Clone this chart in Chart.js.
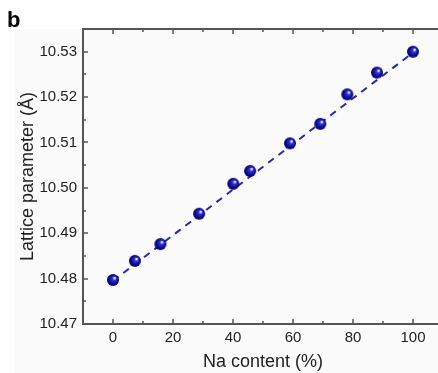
<!DOCTYPE html>
<html>
<head>
<meta charset="utf-8">
<script src="https://cdn.jsdelivr.net/npm/chart.js@4.4.0/dist/chart.umd.min.js"></script>
<style>
  html, body { margin: 0; padding: 0; overflow: hidden; background: #fff; }
  canvas { display: block; }
</style>
</head>
<body>
<canvas id="chart" width="450" height="373"></canvas>
<script>
// Na content (%) vs lattice parameter (Å)
var naContent = [0, 7.3, 15.8, 28.7, 40.1, 45.7, 59, 69.1, 78.1, 88, 100];
var latticeParam = [10.4797, 10.4839, 10.4876, 10.4943, 10.5009, 10.5037, 10.5098, 10.5141, 10.5206, 10.5254, 10.5300];

// linear fit end points
var fitX = [0, 100];
var fitY = [10.4795, 10.5298];

var xTicks = [0, 20, 40, 60, 80, 100];
var xMinor = [10, 30, 50, 70, 90];
var yTicks = [10.47, 10.48, 10.49, 10.50, 10.51, 10.52, 10.53];
var yMinor = [10.475, 10.485, 10.495, 10.505, 10.515, 10.525];

var FONT = '"Liberation Sans", Arial, sans-serif';

// shaded ball used as the marker
function sphere(r) {
    var cv = document.createElement('canvas');
    cv.width = cv.height = r * 2 + 2;
    var g = cv.getContext('2d'), m = r + 1;
    var grad = g.createRadialGradient(m + r * 0.3, m - r * 0.35, r * 0.1, m, m, r);
    grad.addColorStop(0, '#e4e4ff');
    grad.addColorStop(0.25, '#3434cc');
    grad.addColorStop(0.7, '#0a0a9a');
    grad.addColorStop(1, '#000062');
    g.fillStyle = grad;
    g.beginPath();
    g.arc(m, m, r, 0, Math.PI * 2);
    g.fill();
    return cv;
}

function pairs(xs, ys) {
    return xs.map(function(v, i) { return {x: v, y: ys[i]}; });
}

var frame = {
    id: 'frame',
    beforeDraw: function(chart) {
        var c = chart.ctx;
        c.save();
        c.fillStyle = '#fff';
        c.fillRect(0, 0, chart.width, chart.height);
        c.fillStyle = '#fbfbfb';
        c.fillRect(15, chart.chartArea.top, chart.width, chart.height);
        c.restore();
    },
    afterDraw: function(chart) {
        var a = chart.chartArea, xs = chart.scales.x, ys = chart.scales.y, c = chart.ctx;
        c.save();
        c.strokeStyle = '#555';
        c.lineWidth = 2;
        c.strokeRect(a.left, a.top, a.right - a.left, a.bottom - a.top);

        c.lineWidth = 1.5;
        c.beginPath();
        function xt(v, len) {
            var px = Math.round(xs.getPixelForValue(v));
            c.moveTo(px, a.bottom); c.lineTo(px, a.bottom - len);
            c.moveTo(px, a.top); c.lineTo(px, a.top + len);
        }
        function yt(v, len) {
            var py = Math.round(ys.getPixelForValue(v));
            c.moveTo(a.left, py); c.lineTo(a.left + len, py);
            c.moveTo(a.right, py); c.lineTo(a.right - len, py);
        }
        xTicks.forEach(function(v) { xt(v, 5); });
        xMinor.forEach(function(v) { xt(v, 3); });
        yTicks.forEach(function(v) { yt(v, 5); });
        yMinor.forEach(function(v) { yt(v, 3); });
        c.stroke();

        c.fillStyle = '#000';
        c.font = 'bold 22px ' + FONT;
        c.fillText('b', 7, 27);
        c.restore();
    }
};

var ctx = document.getElementById('chart').getContext('2d');
var chart = new Chart(ctx, {
    type: 'scatter',
    data: {
        datasets: [
            {
                label: 'data',
                data: pairs(naContent, latticeParam),
                pointStyle: sphere(6),
                pointRadius: 6,
                showLine: false,
                order: 1
            },
            {
                label: 'fit',
                data: pairs(fitX, fitY),
                showLine: true,
                pointRadius: 0,
                borderColor: '#2525b0',
                borderWidth: 2,
                borderDash: [7, 6],
                order: 2
            }
        ]
    },
    options: {
        responsive: false,
        animation: false,
        layout: { padding: { top: 29, right: 2, left: 0, bottom: 0 } },
        plugins: { legend: { display: false }, tooltip: { enabled: false } },
        scales: {
            x: {
                type: 'linear',
                min: -10,
                max: 110,
                afterBuildTicks: function(s) { s.ticks = xTicks.map(function(v) { return {value: v}; }); },
                afterFit: function(s) { s.height = 49; },
                grid: { display: false, drawTicks: false },
                border: { display: false },
                ticks: { color: '#222', font: { size: 15, family: FONT }, padding: 5, maxRotation: 0, autoSkip: false },
                title: { display: true, text: 'Na content (%)', color: '#222', font: { size: 18, family: FONT }, padding: { top: 0, bottom: 0 } }
            },
            y: {
                min: 10.47,
                max: 10.535,
                afterBuildTicks: function(s) { s.ticks = yTicks.map(function(v) { return {value: v}; }); },
                afterFit: function(s) { s.width = 83; },
                grid: { display: false, drawTicks: false },
                border: { display: false },
                ticks: {
                    color: '#222', font: { size: 15, family: FONT }, padding: 6, autoSkip: false,
                    callback: function(v) { return v.toFixed(2); }
                },
                title: { display: true, text: 'Lattice parameter (Å)', color: '#222', font: { size: 18, family: FONT }, padding: { top: 17, bottom: 0 } }
            }
        }
    },
    plugins: [frame]
});
</script>
</body>
</html>
